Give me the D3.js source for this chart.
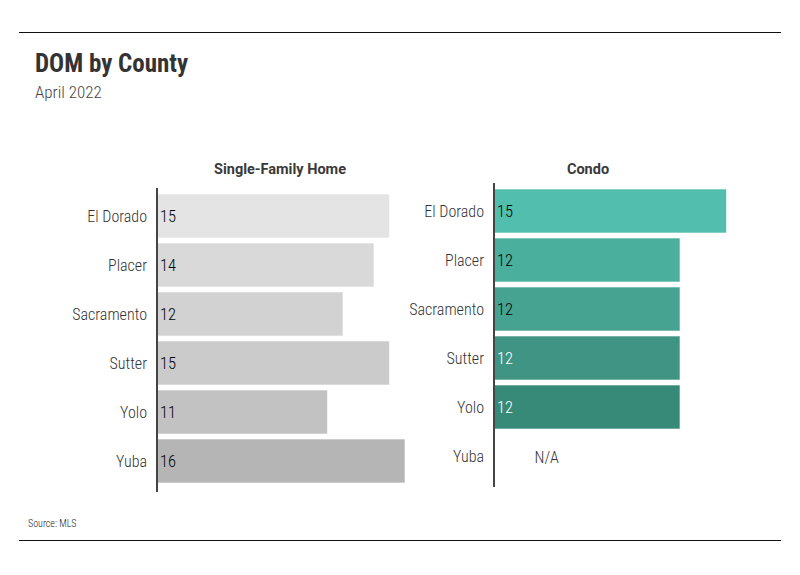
<!DOCTYPE html>
<html><head><meta charset="utf-8">
<script src="https://cdn.jsdelivr.net/npm/d3@7"></script>
<style>body{margin:0;background:#fff}</style>
</head><body>
<script>
const counties = ["El Dorado","Placer","Sacramento","Sutter","Yolo","Yuba"];
const sfhValues = [15,14,12,15,11,16];
const condoValues = [15,12,12,12,12,null];
const sfhColors = ["#e4e4e4","#d9d9d9","#d2d2d2","#cbcbcb","#c2c2c2","#b5b5b5"];
const condoColors = ["#52bead","#4baf9e","#46a392","#3f9483","#388a78","#33806f"];
const condoLabelColors = ["#000","#000","#000","#fff","#fff","#fff"];
const panelTitles = ["Single-Family Home","Condo"];

const W=800,H=575;
const narrow = "'Roboto Condensed','DejaVu Sans Condensed',sans-serif";
const svg = d3.select("body").append("svg").attr("width",W).attr("height",H);

svg.append("line").attr("x1",19).attr("x2",781).attr("y1",32.5).attr("y2",32.5).attr("stroke","#111");
svg.append("line").attr("x1",19).attr("x2",781).attr("y1",540.5).attr("y2",540.5).attr("stroke","#111");

svg.append("text").attr("x",35).attr("y",72).text("DOM by County")
  .attr("font-family",narrow).attr("font-weight","bold").attr("font-size",25).attr("fill","#333");
svg.append("text").attr("x",35).attr("y",98).text("April 2022")
  .attr("font-family",narrow).attr("font-weight",300).attr("font-size",17).attr("fill","#444");
svg.append("text").attr("x",28).attr("y",527).text("Source: MLS")
  .attr("font-family",narrow).attr("font-weight",300).attr("font-size",10).attr("fill","#222");

const x = d3.scaleLinear().domain([0,16]).range([0,248]);

function panel(axisX, top, values, colors, labelColors, title, titleX){
  const y = d3.scaleBand().domain(counties).range([top-2.5, top-2.5+294]).paddingInner(0.102).paddingOuter(0.051);
  const g = svg.append("g").attr("transform",`translate(${axisX},0)`);
  svg.append("text").attr("x",titleX).attr("y",174).attr("text-anchor","middle").text(title)
    .attr("font-family","Roboto,sans-serif").attr("font-weight","bold").attr("font-size",14.5).attr("fill","#3a3a3a");
  counties.forEach((c,i)=>{
    const v = values[i];
    const yy = y(c);
    g.append("text").attr("x",-10).attr("y",yy+y.bandwidth()/2).attr("dy","0.35em").attr("text-anchor","end")
      .text(c).attr("font-family",narrow).attr("font-weight",300).attr("font-size",16).attr("fill","#333");
    if(v!=null){
      g.append("rect").attr("x",0).attr("y",yy).attr("width",x(v)).attr("height",y.bandwidth())
        .attr("fill",colors[i]).attr("stroke","rgba(255,255,255,0.6)").attr("stroke-width",1);
      g.append("text").attr("x",3).attr("y",yy+y.bandwidth()/2).attr("dy","0.35em")
        .text(v).attr("font-family",narrow).attr("font-weight",300).attr("font-size",16.5).attr("fill",labelColors?labelColors[i]:"#000");
    } else {
      g.append("text").attr("x",x(3.4)).attr("y",yy+y.bandwidth()/2+1).attr("dy","0.35em").attr("text-anchor","middle")
        .text("N/A").attr("font-family",narrow).attr("font-weight",300).attr("font-size",16).attr("fill","#333");
    }
  });
  g.append("line").attr("x1",0).attr("x2",0).attr("y1",top-6).attr("y2",top+298).attr("stroke","#444").attr("stroke-width",2);
}
panel(157, 194, sfhValues, sfhColors, null, panelTitles[0], 280);
panel(494, 189, condoValues, condoColors, condoLabelColors, panelTitles[1], 588);
</script>
</body></html>
